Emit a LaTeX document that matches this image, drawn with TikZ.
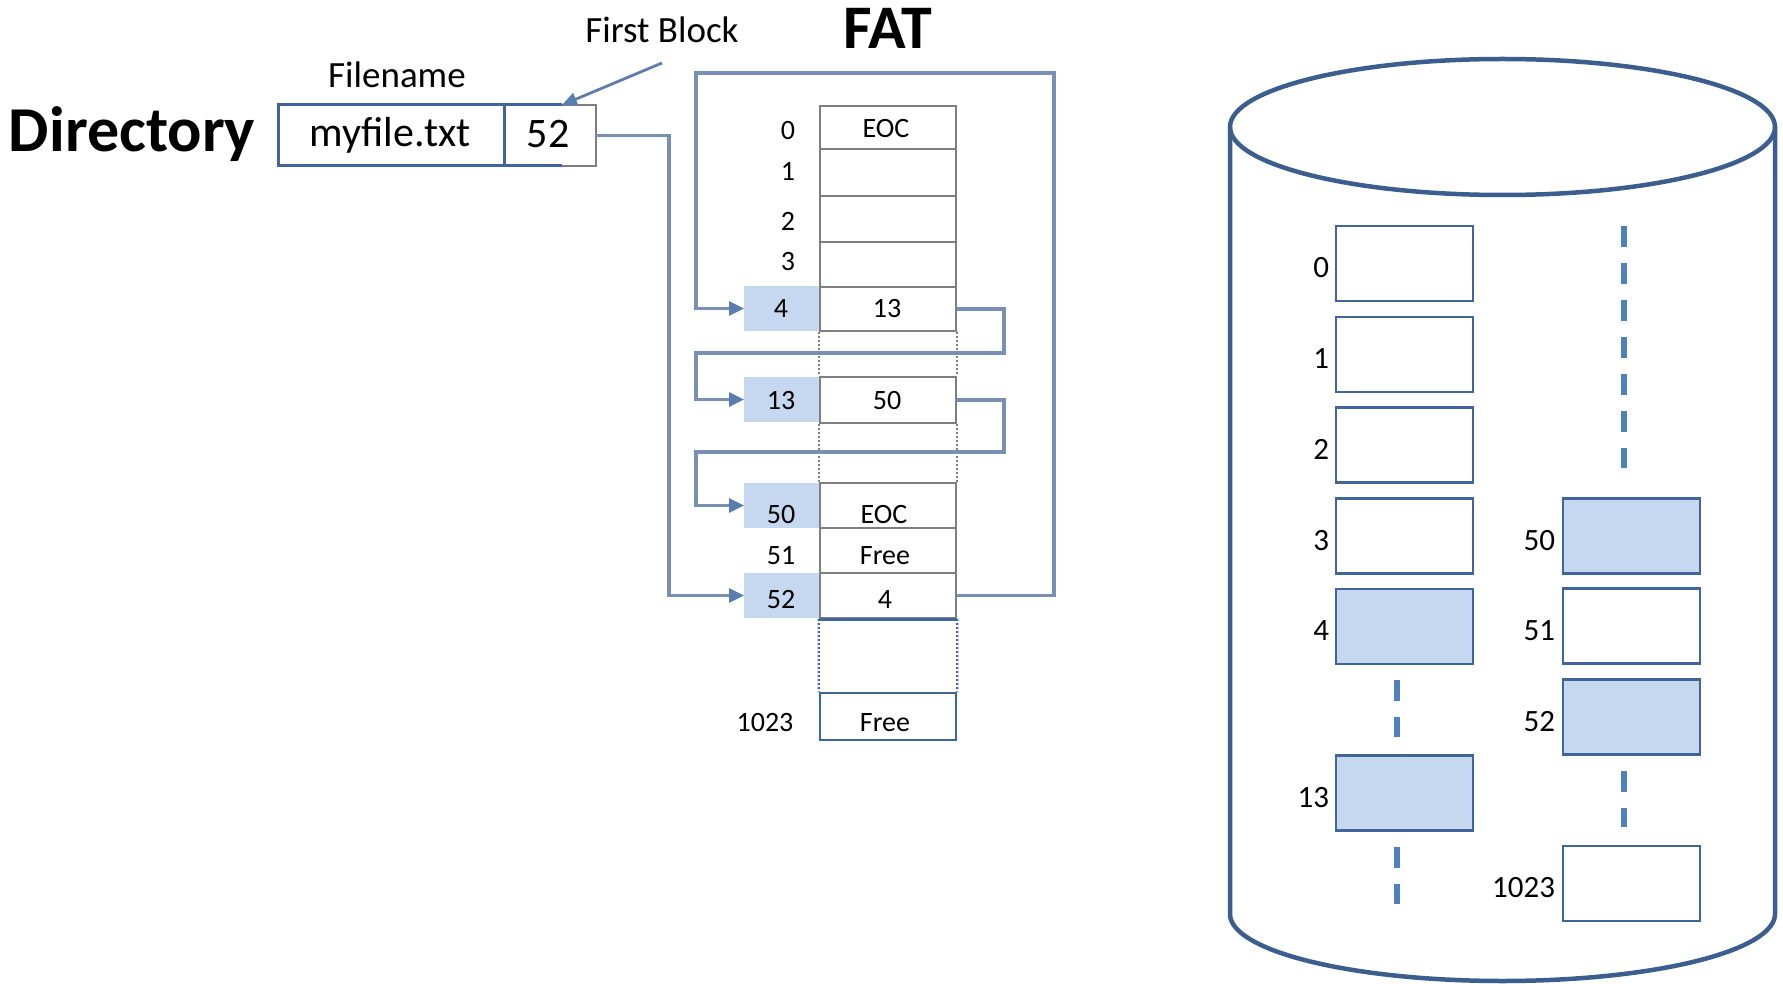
\documentclass[tikz,border=0pt]{standalone}
\usepackage{fontspec}
\setmainfont{Carlito}
\usetikzlibrary{arrows.meta,calc}

\definecolor{diskline}{HTML}{3B5E8E}
\definecolor{boxline}{HTML}{41659A}
\definecolor{blockfill}{HTML}{C6D8EF}
\definecolor{linkline}{HTML}{7890B3}
\definecolor{linktip}{HTML}{5A7DB0}
\definecolor{tableline}{HTML}{7F7F7F}
\definecolor{dashblue}{HTML}{4F81BD}

\newcommand\setfs[1]{\fontsize{#1}{#1}\selectfont}

\begin{document}
\begin{tikzpicture}[x=1pt,y=-1pt,
  txt/.style={inner sep=0pt, outer sep=0pt, anchor=base},
  fattxt/.style={txt, font=\setfs{28}},
  disktxt/.style={inner sep=0pt, outer sep=0pt, anchor=base east, font=\setfs{31}},
  cell/.style={draw=tableline, line width=2.4pt, minimum width=136pt, inner sep=0pt},
  hl/.style={fill=blockfill, minimum width=76pt, minimum height=45pt, inner sep=0pt, outer sep=0pt},
  link/.style={draw=linkline, line width=3.1pt, line join=miter,
    -{Triangle[length=15pt,width=14pt,color=linktip]}},
  fbarrow/.style={draw=linktip!85!gray, line width=2.8pt,
    -{Triangle[length=15pt,width=13pt,color=linktip]}},
  disk/.style={draw=diskline, line width=4.5pt, line join=round},
  blk/.style={draw=boxline, line width=2.5pt, minimum width=137pt, minimum height=75pt, inner sep=0pt},
  blkon/.style={blk, fill=blockfill},
  gap/.style={draw=dashblue, line width=5.5pt, dash pattern=on 21pt off 16pt}
]
\useasboundingbox (0,0) rectangle (1783,984);

% ---------- directory entry ----------
\node[txt, anchor=base west, font=\setfs{64}\bfseries] (dirlabel) at (9,152) {Directory};
\node[txt, font=\setfs{37}] (fnlabel) at (397,88) {Filename};
\node[txt, font=\setfs{37}] (fblabel) at (662,43) {First Block};

\node[draw=boxline, line width=3pt, minimum width=226pt, minimum height=61pt, inner sep=0pt] (dname) at (391,135.5) {};
\node[minimum width=92pt, minimum height=61pt, inner sep=0pt, outer sep=0pt] (d52) at (550,135.5) {};
\coordinate (dsplitT) at ($(d52.north west)!0.63!(d52.north east)$);
\coordinate (dsplitB) at ($(d52.south west)!0.63!(d52.south east)$);
\draw[boxline, line width=3pt] (d52.north west) -- (dsplitT) (d52.south west) -- (dsplitB);
\draw[tableline, line width=2.5pt] (dsplitT) -- (d52.north east) -- (d52.south east) -- (dsplitB);
\node[txt, font=\setfs{42}] (fname) at (390,147) {myfile.txt};
\node[txt, font=\setfs{42}] (fblock) at (548,148) {52};

\coordinate (fbTail) at (662,63);
\draw[fbarrow] (fbTail) -- (dsplitT);

% ---------- FAT ----------
\node[txt, font=\setfs{62}\bfseries] (fattitle) at (888,49) {FAT};

\node[hl] (h4)  at (782,308.5) {};
\node[hl] (h13) at (782,399.5) {};
\node[hl] (h50) at (782,505.5) {};
\node[hl] (h52) at (782,595.5) {};

\node[cell, minimum height=43pt] (c0)  at (888,127.5) {};
\node[cell, minimum height=47pt] (c1)  at (888,172.5) {};
\node[cell, minimum height=46pt] (c2)  at (888,219) {};
\node[cell, minimum height=45pt] (c3)  at (888,264.5) {};
\node[cell, minimum height=44pt] (c4)  at (888,309) {};
\node[cell, minimum height=46pt] (c13) at (888,400) {};
\node[cell, minimum height=45pt] (c50) at (888,505.5) {};
\node[cell, minimum height=45pt] (c51) at (888,550.5) {};
\node[cell, minimum height=45pt] (c52) at (888,595.5) {};
\node[cell, draw=boxline, line width=2.6pt, minimum height=47pt] (c1023) at (888,716.5) {};

% skipped rows
\draw[tableline, line width=1.8pt, dash pattern=on 2pt off 2pt]
  (c4.south west) -- (c13.north west) (c4.south east) -- (c13.north east)
  (c13.south west) -- (c50.north west) (c13.south east) -- (c50.north east);
\draw[boxline, line width=2.6pt] (c52.south west) -- (c52.south east);
\draw[boxline, line width=2.2pt, dash pattern=on 2pt off 2pt]
  (c52.south west) -- (c1023.north west) (c52.south east) -- (c1023.north east);

% row numbers
\node[fattxt] (n0) at (788,140) {0};
\node[fattxt] (n1) at (788,181) {1};
\node[fattxt] (n2) at (788,231) {2};
\node[fattxt] (n3) at (788,271) {3};
\node[fattxt] (n4) at (781,317) {4};
\node[fattxt] (n13) at (781,409) {13};
\node[fattxt] (n50) at (781,523) {50};
\node[fattxt] (n51) at (781,564) {51};
\node[fattxt] (n52) at (781,608) {52};
\node[fattxt] (n1023) at (765,731) {1023};

% entries
\node[fattxt] (v0) at (886,137.5) {EOC};
\node[fattxt] (v4) at (887,317) {13};
\node[fattxt] (v13) at (887,409) {50};
\node[fattxt] (v50) at (884,523) {EOC};
\node[fattxt] (v51) at (885,564) {Free};
\node[fattxt] (v52) at (885,608) {4};
\node[fattxt] (v1023) at (885,731) {Free};

% cluster chain
\draw[link] (d52.east) -- ++(73,0) |- (h52.west);
\coordinate (loopTR) at (1054,73);
\coordinate (loopTL) at (696,73);
\draw[link] (c52.east) -| (loopTR) -- (loopTL) |- (h4.west);
\coordinate (hopA1) at (1004,353);
\coordinate (hopA2) at (696,353);
\draw[link] (c4.east) -| (hopA1) -- (hopA2) |- (h13.west);
\coordinate (hopB1) at (1004,452);
\coordinate (hopB2) at (696,452);
\draw[link] (c13.east) -| (hopB1) -- (hopB2) |- (h50.west);

% ---------- disk ----------
\draw[disk] (1502.5,127) ellipse [x radius=272.5, y radius=68];
\draw[disk] (1230,127) -- (1230,914)
  -- plot[domain=180:360, samples=90, smooth] ({1502.5+272.5*cos(\x)},{914-67*sin(\x)})
  -- (1775,127);

\node[blk]   (blk0)  at (1404.5,263.5) {};
\node[blk]   (blk1)  at (1404.5,354.5) {};
\node[blk]   (blk2)  at (1404.5,445) {};
\node[blk]   (blk3)  at (1404.5,536) {};
\node[blkon] (blk4)  at (1404.5,626.5) {};
\node[blkon] (blk13) at (1404.5,793) {};
\node[blkon] (blk50) at (1631.5,536) {};
\node[blk]   (blk51) at (1631.5,626) {};
\node[blkon] (blk52) at (1631.5,717) {};
\node[blk]   (blk1023) at (1631.5,883.5) {};

\node[disktxt] (b0)  at (1329,277.5) {0};
\node[disktxt] (b1)  at (1329,368.5) {1};
\node[disktxt] (b2)  at (1329,459) {2};
\node[disktxt] (b3)  at (1329,550) {3};
\node[disktxt] (b4)  at (1329,640.5) {4};
\node[disktxt] (b13) at (1329,807) {13};
\node[disktxt] (b50) at (1555,550) {50};
\node[disktxt] (b51) at (1555,640) {51};
\node[disktxt] (b52) at (1555,731) {52};
\node[disktxt] (b1023) at (1555,897.5) {1023};

% elided blocks
\coordinate (rtop) at (1624,226);
\coordinate (lend) at (1397,904);
\draw[gap] (rtop) -- ([xshift=-7.5pt,yshift=29pt]blk50.north);
\draw[gap] ([xshift=-7.5pt,yshift=-15pt]blk4.south) -- ([xshift=-7.5pt,yshift=17pt]blk13.north);
\draw[gap] ([xshift=-7.5pt,yshift=-15pt]blk13.south) -- (lend);
\draw[gap] ([xshift=-7.5pt,yshift=-15pt]blk52.south) -- ([xshift=-7.5pt,yshift=18pt]blk1023.north);
\end{tikzpicture}
\end{document}
